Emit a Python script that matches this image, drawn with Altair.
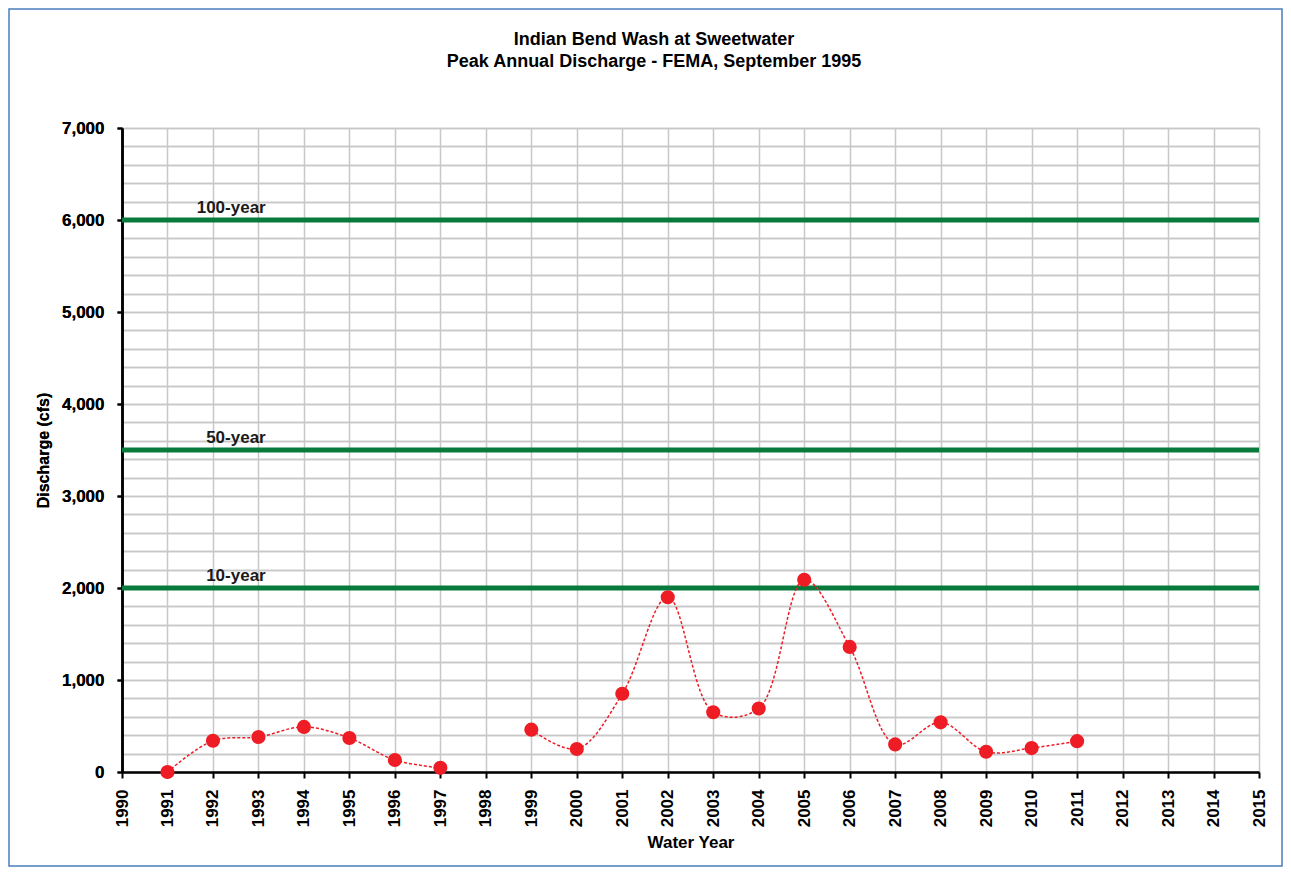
import altair as alt
import pandas as pd

# ---- data ----
years = [1991, 1992, 1993, 1994, 1995, 1996, 1997,
         1999, 2000, 2001, 2002, 2003, 2004, 2005, 2006, 2007, 2008, 2009, 2010, 2011]
discharge = [0, 340, 380, 490, 370, 130, 45,
             460, 250, 850, 1900, 650, 690, 2090, 1360, 300, 540, 220, 260, 335]
segment = ["a"] * 7 + ["b"] * 13

thr_values = [6000, 3500, 2000]
thr_labels = ["100-year", "50-year", "10-year"]

title_lines = ["Indian Bend Wash at Sweetwater",
               "Peak Annual Discharge - FEMA, September 1995"]

year_ticks = list(range(1990, 2016))
y_major = list(range(0, 7001, 1000))
y_minor = list(range(0, 7001, 200))

df = pd.DataFrame({"year": years, "q": discharge, "seg": segment})
thr = pd.DataFrame({"value": thr_values, "label": thr_labels})

FONT = "Liberation Sans"
RED = "#ee1c25"
GREEN = "#087a3b"
W, H = 1137, 644

xscale = alt.Scale(domain=[1990, 2015], nice=False, zero=False)
yscale = alt.Scale(domain=[0, 7000], nice=False)

xaxis = alt.Axis(values=year_ticks, format="d", labelAngle=270, grid=True,
                 gridColor="#c8c8c8", gridWidth=1.5, tickColor="black",
                 tickSize=6, tickWidth=2, domainColor="black", domainWidth=2.5,
                 labelFont=FONT, labelFontSize=17, labelFontWeight="bold",
                 labelColor="black", labelPadding=11, labelAlign="right",
                 labelBaseline="middle", title="Water Year", titleFont=FONT,
                 titleFontSize=17, titleFontWeight="bold", titleColor="black",
                 titlePadding=8)

yaxis_grid = alt.Axis(values=y_minor, grid=True, gridColor="#c8c8c8", gridWidth=1.5,
                      labels=False, ticks=False, domain=False, title=None, orient="left")
yaxis_main = alt.Axis(values=y_major, format=",.0f", grid=False, tickColor="black",
                      tickSize=5, tickWidth=2, domainColor="black", domainWidth=2.5,
                      labelFont=FONT, labelFontSize=17, labelFontWeight="bold",
                      labelColor="black", labelPadding=13,
                      title="Discharge (cfs)", titleFont=FONT, titleFontSize=16,
                      titleFontWeight="bold", titleColor="black", titlePadding=10,
                      orient="left")

frame = alt.Chart(pd.DataFrame({"a": [0]})).mark_rect(
    fill=None, stroke="#4a7ebb", strokeWidth=1.5, clip=False
).encode(x=alt.value(-113), x2=alt.value(1160), y=alt.value(-119), y2=alt.value(738))

TITLE_X = 532
title1 = alt.Chart(pd.DataFrame({"t": [title_lines[0]]})).mark_text(
    align="center", baseline="middle", font=FONT, fontSize=18,
    fontWeight="bold", color="black"
).encode(x=alt.value(TITLE_X), y=alt.value(-88), text="t:N")
title2 = alt.Chart(pd.DataFrame({"t": [title_lines[1]]})).mark_text(
    align="center", baseline="middle", font=FONT, fontSize=18,
    fontWeight="bold", color="black"
).encode(x=alt.value(TITLE_X), y=alt.value(-66), text="t:N")

thr_lines = alt.Chart(thr).mark_rule(color=GREEN, strokeWidth=5).encode(
    y=alt.Y("value:Q", scale=yscale, axis=yaxis_grid)
)

thr_text = alt.Chart(thr).mark_text(
    align="right", baseline="alphabetic", dy=-7, font=FONT, fontSize=17,
    fontWeight="bold", color="#1a1a1a"
).encode(
    x=alt.datum(1993.16, scale=xscale, axis=xaxis),
    y=alt.Y("value:Q", scale=yscale, axis=yaxis_grid),
    text="label:N",
)

line = alt.Chart(df).mark_line(
    interpolate="catmull-rom", color=RED, strokeWidth=1.5, strokeDash=[3, 2]
).encode(
    x=alt.X("year:Q", scale=xscale, axis=xaxis),
    y=alt.Y("q:Q", scale=yscale, axis=yaxis_main),
    detail="seg:N",
)

pts = alt.Chart(df).mark_circle(size=200, color=RED, opacity=1).encode(
    x=alt.X("year:Q", scale=xscale, axis=xaxis),
    y=alt.Y("q:Q", scale=yscale, axis=yaxis_main),
)

chart = alt.layer(frame, title1, title2, thr_lines, thr_text, line, pts).resolve_axis(
    y="independent"
).resolve_scale(y="shared").properties(
    width=W, height=H,
    padding={"left": 0, "top": 0, "right": 0, "bottom": 0},
).configure_view(stroke="#999999", strokeWidth=1.5).configure(background="white")

chart.save("out.html", embed_options={"renderer": "svg", "actions": False})
